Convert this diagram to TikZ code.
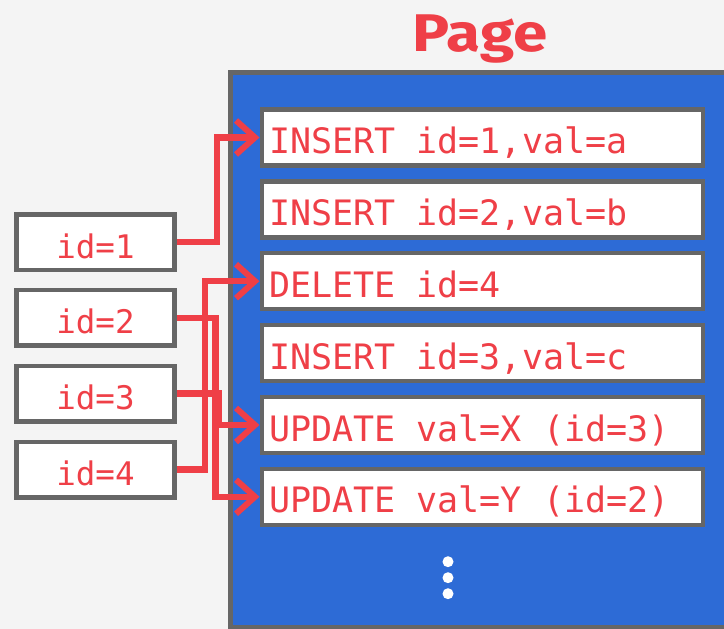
\documentclass[tikz,border=0pt]{standalone}
\usepackage{fontspec}
\setmainfont{DejaVu Sans Mono}
\newfontfamily\titlefont{Fira Sans}
\usetikzlibrary{arrows.meta}

\definecolor{bgcol}{HTML}{F4F4F4}
\definecolor{pageblue}{HTML}{2D6BD6}
\definecolor{edgegray}{HTML}{666666}
\definecolor{redtxt}{HTML}{EF3F47}

\tikzset{
  record/.style={draw=edgegray, fill=white, line width=4.5pt,
    minimum width=441pt, minimum height=56pt, inner sep=0pt},
  idbox/.style={draw=edgegray, fill=white, line width=4.5pt,
    minimum width=158pt, minimum height=55.5pt, inner sep=0pt},
  rectext/.style={anchor=base west, inner sep=0pt, text=redtxt,
    font=\fontsize{35}{40}\selectfont},
  idtext/.style={anchor=base, inner sep=0pt, text=redtxt,
    font=\fontsize{32.5}{38}\selectfont},
  redlink/.style={draw=redtxt, line width=6.5pt, line join=miter,
    arrows={-Straight Barb[length=19pt,width=34pt,line width=6pt]}},
  dot/.style={fill=white, draw=none}
}

\begin{document}
\begin{tikzpicture}[x=1pt,y=-1pt]
  \useasboundingbox (0,0) rectangle (724,629);
  \clip (0,0) rectangle (724,629);
  \fill[bgcol] (0,0) rectangle (724,629);

  % title
  \node[anchor=base, inner sep=0pt, text=redtxt,
        font=\titlefont\bfseries\fontsize{53}{58}\selectfont, xscale=1.17]
        (title) at (480,51) {Page};

  % the page body
  \draw[draw=edgegray, fill=pageblue, line width=4.5pt]
        (230.3,72.3) rectangle (760,627);

  % log records
  \foreach \i/\y in {1/137.5, 2/209.3, 3/281.2, 4/353.1, 5/425, 6/496.8} {
    \node[record, anchor=west] (r\i) at (259.5,\y) {};
  }
  \node[rectext] (t1) at (269,153.5) {INSERT id=1,val=a};
  \node[rectext] (t2) at (269,225.3) {INSERT id=2,val=b};
  \node[rectext] (t3) at (269,297.2) {DELETE id=4};
  \node[rectext] (t4) at (269,369.1) {INSERT id=3,val=c};
  \node[rectext] (t5) at (269,441)   {UPDATE val=X (id=3)};
  \node[rectext] (t6) at (269,512.8) {UPDATE val=Y (id=2)};

  % ellipsis
  \fill[dot] (448,561.7) circle (5.5pt);
  \fill[dot] (448,577.7) circle (5.5pt);
  \fill[dot] (448,593.7) circle (5.5pt);

  % id boxes
  \foreach \i/\y in {1/242, 2/317.8, 3/393.6, 4/469.5} {
    \node[idbox] (k\i) at (95.5,\y) {};
    \node[idtext] (kt\i) at (95.5,\y+16) {id=\i};
  }

  % connectors from ids to records
  \coordinate (v1) at (217,0);
  \coordinate (v2) at (215.5,0);
  \coordinate (v3) at (218.5,0);
  \coordinate (v4) at (205,0);
  \draw[redlink] (k1.east) -- (k1.east -| v1) |- (r1.west);
  \draw[redlink] (k4.east) -- (k4.east -| v4) |- (r3.west);
  \draw[redlink] (k2.east) -- (k2.east -| v2) |- (r6.west);
  \draw[redlink] (k3.east) -- (k3.east -| v3) |- (r5.west);
\end{tikzpicture}
\end{document}
